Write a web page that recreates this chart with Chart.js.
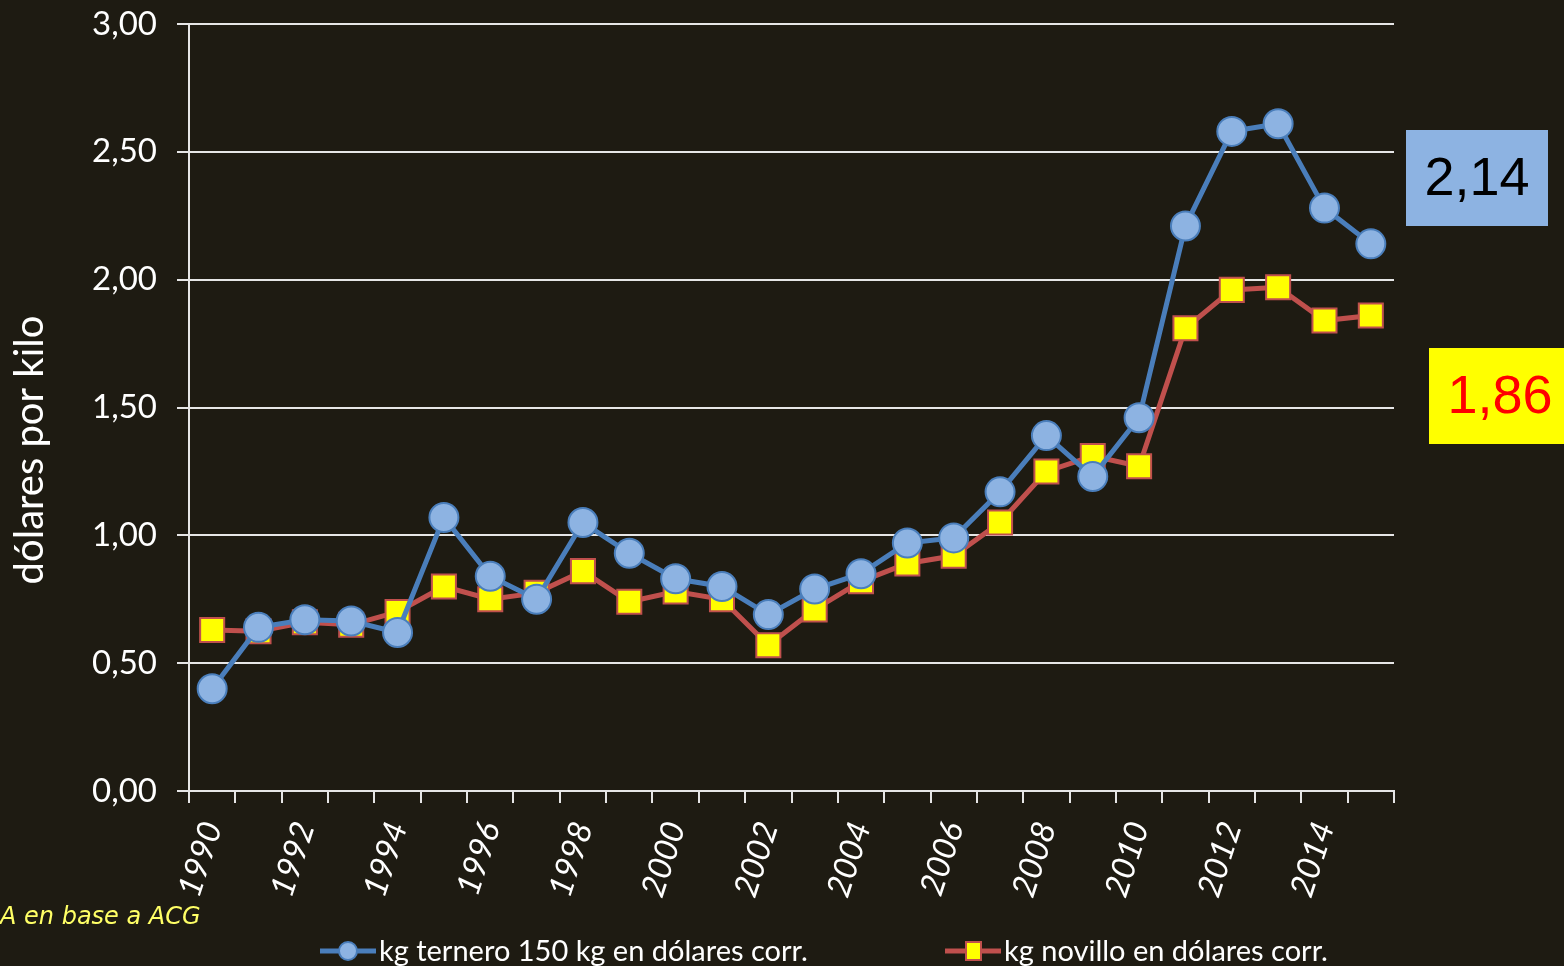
<!DOCTYPE html>
<html>
<head>
<meta charset="utf-8">
<script src="https://cdn.jsdelivr.net/npm/chart.js@4/dist/chart.umd.min.js"></script>
<style>
  html, body { margin: 0; padding: 0; background: #1e1b12; }
  #wrap { width: 1564px; height: 966px; }
</style>
</head>
<body>
<div id="wrap"><canvas id="chart" width="1564" height="966"></canvas></div>
<script>
const years = ['1990', '1991', '1992', '1993', '1994', '1995', '1996', '1997', '1998', '1999',
  '2000', '2001', '2002', '2003', '2004', '2005', '2006', '2007', '2008', '2009',
  '2010', '2011', '2012', '2013', '2014', '2015'];

// kg ternero 150 kg
const ternero = [0.40, 0.64, 0.67, 0.665, 0.62, 1.07, 0.84, 0.75, 1.05, 0.93,
  0.83, 0.80, 0.69, 0.79, 0.85, 0.97, 0.99, 1.17, 1.39, 1.23,
  1.46, 2.21, 2.58, 2.61, 2.28, 2.14];

// kg novillo
const novillo = [0.63, 0.625, 0.66, 0.65, 0.70, 0.80, 0.75, 0.775, 0.86, 0.74,
  0.78, 0.75, 0.57, 0.71, 0.82, 0.89, 0.92, 1.05, 1.25, 1.31,
  1.27, 1.81, 1.96, 1.97, 1.84, 1.86];

const seriesNames = ['kg ternero 150 kg en dólares corr.', 'kg novillo en dólares corr.'];
const yTitle = 'dólares por kilo';
const sourceNote = 'A en base a ACG';

const fmt = v => v.toFixed(2).replace('.', ',');

const BG = '#1e1b12';
const BLUE_LINE = '#4a7ebb';
const BLUE_FILL = '#8db3e2';
const RED_LINE = '#c0504d';
const YELLOW = '#ffff00';
const GRID = '#e6e6e6';

// legend, axis title, value boxes and source note
const extras = {
  id: 'extras',
  afterDraw(chart) {
    const ctx = chart.ctx;
    const area = chart.chartArea;
    ctx.save();

    // y axis title
    ctx.save();
    ctx.translate(30, 450);
    ctx.rotate(-Math.PI / 2);
    ctx.font = '40px Lato, "Open Sans", sans-serif';
    ctx.fillStyle = '#fff';
    ctx.textAlign = 'center';
    ctx.textBaseline = 'middle';
    ctx.fillText(yTitle, 0, 0);
    ctx.restore();

    // value boxes at the right
    const lastT = ternero[ternero.length - 1];
    const lastN = novillo[novillo.length - 1];
    ctx.fillStyle = BLUE_FILL;
    ctx.fillRect(area.right + 12, 130, 142, 96);
    ctx.fillStyle = YELLOW;
    ctx.fillRect(area.right + 35, 348, 136, 96);
    ctx.font = '54px "Liberation Sans", Arial, sans-serif';
    ctx.textAlign = 'center';
    ctx.textBaseline = 'middle';
    ctx.fillStyle = '#000';
    ctx.fillText(fmt(lastT), area.right + 83, 180);
    ctx.fillStyle = '#ff0000';
    ctx.fillText(fmt(lastN), area.right + 106, 398);

    // source note
    ctx.font = 'italic 24px "DejaVu Sans", sans-serif';
    ctx.textAlign = 'left';
    ctx.fillStyle = '#ffff66';
    ctx.fillText(sourceNote, 0, 918);

    // legend
    const items = [
      { x: 320, line: BLUE_LINE, fill: BLUE_FILL, shape: 'circle', text: seriesNames[0] },
      { x: 945, line: RED_LINE, fill: YELLOW, shape: 'rect', text: seriesNames[1] }
    ];
    const ly = 951;
    items.forEach(it => {
      ctx.strokeStyle = it.line;
      ctx.lineWidth = 5;
      ctx.beginPath();
      ctx.moveTo(it.x, ly);
      ctx.lineTo(it.x + 56, ly);
      ctx.stroke();
      ctx.fillStyle = it.fill;
      ctx.lineWidth = 2;
      ctx.beginPath();
      if (it.shape === 'circle') {
        ctx.arc(it.x + 28, ly, 9, 0, Math.PI * 2);
      } else {
        ctx.rect(it.x + 21, ly - 9, 15, 18);
      }
      ctx.fill();
      ctx.stroke();
      ctx.font = '29px Lato, "Open Sans", sans-serif';
      ctx.fillStyle = '#fff';
      ctx.textAlign = 'left';
      ctx.fillText(it.text, it.x + 59, ly + 1);
    });
    ctx.restore();
  }
};

new Chart(document.getElementById('chart'), {
  type: 'line',
  data: {
    labels: years,
    datasets: [
      {
        label: seriesNames[0],
        data: ternero,
        borderColor: BLUE_LINE,
        borderWidth: 5,
        backgroundColor: BLUE_FILL,
        pointStyle: 'circle',
        pointRadius: 14.5,
        pointBorderColor: BLUE_LINE,
        pointBorderWidth: 2,
        pointBackgroundColor: BLUE_FILL,
        tension: 0
      },
      {
        label: seriesNames[1],
        data: novillo,
        borderColor: RED_LINE,
        borderWidth: 5,
        backgroundColor: YELLOW,
        pointStyle: 'rect',
        pointRadius: 17,
        pointBorderColor: RED_LINE,
        pointBorderWidth: 2,
        pointBackgroundColor: YELLOW,
        tension: 0
      }
    ]
  },
  options: {
    responsive: false,
    animation: false,
    layout: { padding: { left: 0, right: 170, top: 24, bottom: 0 } },
    plugins: {
      legend: { display: false },
      tooltip: { enabled: false }
    },
    scales: {
      x: {
        offset: true,
        grid: {
          offset: true,
          drawOnChartArea: false,
          drawTicks: true,
          tickLength: 12,
          color: GRID,
          lineWidth: 2
        },
        border: { color: GRID, width: 2 },
        ticks: {
          autoSkip: false,
          minRotation: 72,
          maxRotation: 72,
          padding: 14,
          color: '#fff',
          font: { family: 'Lato, "Open Sans", sans-serif', style: 'italic', size: 33 },
          callback: (v, i) => (i % 2 === 0 ? years[i] : '')
        },
        afterFit(scale) {
          scale.height = 175;
          scale.paddingLeft = 0;
          scale.paddingRight = 0;
        }
      },
      y: {
        min: 0,
        max: 3,
        grid: {
          color: GRID,
          lineWidth: 2,
          drawTicks: true,
          tickLength: 12
        },
        border: { color: GRID, width: 2 },
        ticks: {
          stepSize: 0.5,
          padding: 20,
          color: '#fff',
          font: { family: 'Lato, "Open Sans", sans-serif', size: 33 },
          callback: v => fmt(v)
        },
        afterFit(scale) {
          scale.width = 189;
          scale.paddingTop = 0;
          scale.paddingBottom = 0;
        }
      }
    }
  },
  plugins: [
    {
      id: 'bg',
      beforeDraw(chart) {
        const c = chart.ctx;
        c.save();
        c.fillStyle = BG;
        c.fillRect(0, 0, chart.width, chart.height);
        c.restore();
      }
    },
    extras
  ]
});
</script>
</body>
</html>
